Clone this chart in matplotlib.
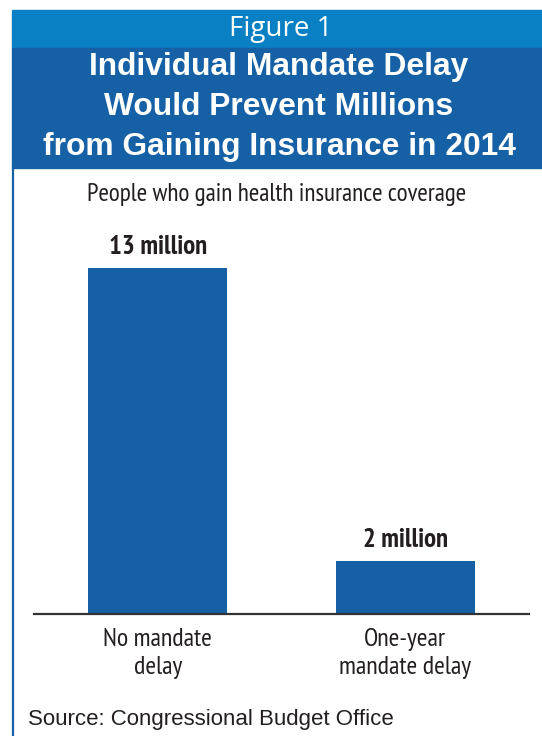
import matplotlib

matplotlib.use("Agg")
import matplotlib.pyplot as plt
from matplotlib.patches import Rectangle
from matplotlib.lines import Line2D

LIGHT_BLUE = "#0a80c4"
DARK_BLUE = "#1661a5"
BAR_BLUE = "#1660a5"
TEXT = "#231f20"

CATEGORIES = ["No mandate\ndelay", "One-year\nmandate delay"]
VALUES = [13, 2]
VALUE_LABELS = ["13 million", "2 million"]
FIG_LABEL = "Figure 1"
TITLE_LINES = ["Individual Mandate Delay", "Would Prevent Millions", "from Gaining Insurance in 2014"]
SUBTITLE = "People who gain health insurance coverage"
SOURCE = "Source: Congressional Budget Office"

W, H = 542, 736
NARROW = ["PT Sans Narrow", "DejaVu Sans"]


def px(x, y):
    # pixel coordinates (top-left origin) to figure fraction
    return x / W, 1 - y / H


fig = plt.figure(figsize=(W / 100, H / 100), dpi=100)
fig.patch.set_facecolor("white")

# header bands and left frame line
fig.patches.append(Rectangle(px(12, 48), (W - 12) / W, 38 / H, transform=fig.transFigure,
                             color=LIGHT_BLUE, zorder=0))
fig.patches.append(Rectangle(px(12, 168), (W - 12) / W, 120 / H, transform=fig.transFigure,
                             color=DARK_BLUE, zorder=0))
fig.lines.append(Line2D([13 / W, 13 / W], [0, 1 - 168 / H], transform=fig.transFigure,
                        color=DARK_BLUE, linewidth=1.6))

fig.text(*px(281, 29), FIG_LABEL, ha="center", va="center", color="white", fontsize=20,
         family="Open Sans")
for i, line in enumerate(TITLE_LINES):
    fig.text(*px(279, 67 + 40 * i), line, ha="center", va="center", color="white",
             fontsize=22.9, fontweight="bold", family="Liberation Sans")

fig.text(*px(277, 194), SUBTITLE, ha="center", va="center", color=TEXT, fontsize=18.2,
         family=NARROW)
fig.text(*px(28, 720), SOURCE, ha="left", va="center", color=TEXT, fontsize=16,
         family="Liberation Sans")

# bar chart: axes spans baseline from x=34 to 529 px, y from 614 (0) to 268 (13)
ax = fig.add_axes([34 / W, 1 - 614 / H, 495 / W, 346 / H])
positions = range(len(VALUES))
bars = ax.bar(positions, VALUES, width=0.562, color=BAR_BLUE, zorder=2)
for bar, label in zip(bars, VALUE_LABELS):
    ax.annotate(label, (bar.get_x() + bar.get_width() / 2, bar.get_height()),
                xytext=(0, 15), textcoords="offset points", ha="center", va="center",
                fontsize=19.4, fontweight="bold", color=TEXT, family=NARROW)
ax.set_xlim(-0.5, 1.5)
ax.set_ylim(0, 13)
ax.set_xticks(list(positions), CATEGORIES, fontsize=18.7, color=TEXT, family=NARROW,
              linespacing=1.3)
ax.tick_params(axis="x", length=0, pad=10)
ax.set_yticks([])
for side in ("top", "right", "left"):
    ax.spines[side].set_visible(False)
ax.spines["bottom"].set_color("#333333")
ax.spines["bottom"].set_linewidth(1.6)
ax.patch.set_alpha(0)

fig.savefig("out.png", dpi=100, facecolor="white")
